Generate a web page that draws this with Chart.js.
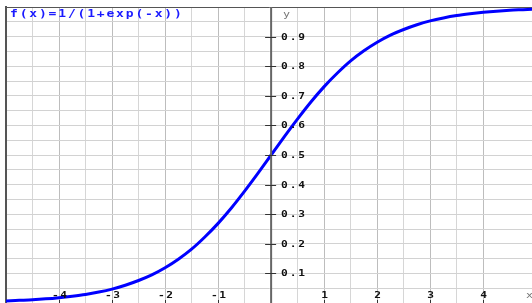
<!DOCTYPE html>
<html><head><meta charset="utf-8">
<style>html,body{margin:0;padding:0;background:#fff;overflow:hidden}canvas{display:block}</style>
<script src="https://cdn.jsdelivr.net/npm/chart.js@4/dist/chart.umd.min.js"></script>
</head><body>
<canvas id="c" width="532" height="303"></canvas>
<script>
const xValues = [-5,-4.75,-4.5,-4.25,-4,-3.75,-3.5,-3.25,-3,-2.75,-2.5,-2.25,-2,-1.75,-1.5,-1.25,-1,-0.75,-0.5,-0.25,0,0.25,0.5,0.75,1,1.25,1.5,1.75,2,2.25,2.5,2.75,3,3.25,3.5,3.75,4,4.25,4.5,4.75,5];
const yValues = [0.007,0.009,0.011,0.014,0.018,0.023,0.029,0.037,0.047,0.060,0.076,0.095,0.119,0.148,0.182,0.223,0.269,0.321,0.378,0.438,0.500,0.562,0.622,0.679,0.731,0.777,0.818,0.852,0.881,0.905,0.924,0.940,0.953,0.963,0.971,0.977,0.982,0.986,0.989,0.991,0.993];
const xTickLabels = ["-4","-3","-2","-1","1","2","3","4"];
const xTickValues = [-4,-3,-2,-1,1,2,3,4];
const yTickLabels = ["0.1","0.2","0.3","0.4","0.5","0.6","0.7","0.8","0.9"];
const yTickValues = [0.1,0.2,0.3,0.4,0.5,0.6,0.7,0.8,0.9];
const titleText = "f(x)=1/(1+exp(-x))";

function drawStretched(ctx, text, x, y, sx, spacing, align) {
  ctx.save();
  ctx.letterSpacing = spacing + 'px';
  const w = ctx.measureText(text).width - spacing;
  ctx.translate(x, y);
  ctx.scale(sx, 1);
  let dx = 0;
  if (align === 'center') dx = -w / 2;
  ctx.textAlign = 'left';
  ctx.fillText(text, dx, 0);
  ctx.restore();
}

const overlay = {
  id: 'overlay',
  afterDatasetsDraw(chart) {
    const ctx = chart.ctx, xs = chart.scales.x, ys = chart.scales.y, a = chart.chartArea;
    const x0 = xs.getPixelForValue(0);
    ctx.save();
    ctx.strokeStyle = '#666';
    ctx.lineWidth = 2;
    ctx.beginPath(); ctx.moveTo(x0, a.top); ctx.lineTo(x0, a.bottom + 1); ctx.stroke();
    ctx.lineWidth = 1;
    ctx.strokeStyle = '#333';
    ctx.fillStyle = '#111';
    ctx.font = 'bold 8px "DejaVu Sans Mono"';
    ctx.textBaseline = 'middle';
    yTickValues.forEach((v, i) => {
      const py = Math.round(ys.getPixelForValue(v)) + 0.5;
      ctx.beginPath(); ctx.moveTo(x0 - 6, py); ctx.lineTo(x0 + 5, py); ctx.stroke();
      drawStretched(ctx, yTickLabels[i], x0 + 10, py, 1.4, 1.3, 'left');
    });
    xTickValues.forEach((v, i) => {
      const px = Math.round(xs.getPixelForValue(v)) + 0.5;
      ctx.beginPath(); ctx.moveTo(px, a.bottom - 3); ctx.lineTo(px, a.bottom + 1); ctx.stroke();
      drawStretched(ctx, xTickLabels[i], px, a.bottom - 7, 1.4, 1.0, 'center');
    });
    ctx.fillStyle = '#777';
    ctx.font = '9px "DejaVu Sans Mono"';
    drawStretched(ctx, 'y', x0 + 12, a.top + 8, 1.3, 0, 'left');
    drawStretched(ctx, 'x', a.right - 6, a.bottom - 7, 1.3, 0, 'left');
    ctx.fillStyle = '#1a1aff';
    ctx.font = 'bold 10px "DejaVu Sans Mono"';
    drawStretched(ctx, titleText, 10, 14, 1.3, 1.4, 'left');
    ctx.restore();
  }
};

new Chart(document.getElementById('c'), {
  type: 'line',
  data: {
    datasets: [{
      data: xValues.map((x, i) => ({x: x, y: yValues[i]})),
      borderColor: '#0000ff',
      borderWidth: 3,
      pointRadius: 0,
      tension: 0.4,
      cubicInterpolationMode: 'monotone',
      fill: false
    }]
  },
  options: {
    responsive: false,
    animation: false,
    events: [],
    layout: {padding: {left: 6, top: 7, right: 0, bottom: 0}},
    plugins: {legend: {display: false}, tooltip: {enabled: false}},
    scales: {
      x: {
        type: 'linear', position: 'top', min: -5, max: 4.92,
        afterBuildTicks(s) { s.ticks = s.ticks.filter(t => Math.abs(t.value * 2 - Math.round(t.value * 2)) < 1e-6); },
        ticks: {display: false, stepSize: 0.5},
        grid: {drawTicks: false, lineWidth: 1,
          color: c => (c.tick && Math.abs(c.tick.value - Math.round(c.tick.value)) < 1e-6) ? '#bdbdbd' : '#d6d6d6'},
        border: {display: true, color: '#555', width: 1}
      },
      y: {
        type: 'linear', position: 'left', min: 0, max: 1,
        ticks: {display: false, stepSize: 0.05},
        grid: {drawTicks: false, lineWidth: 1, color: '#d2d2d2'},
        border: {display: true, color: '#555', width: 2}
      }
    }
  },
  plugins: [overlay]
});
</script>
</body></html>
